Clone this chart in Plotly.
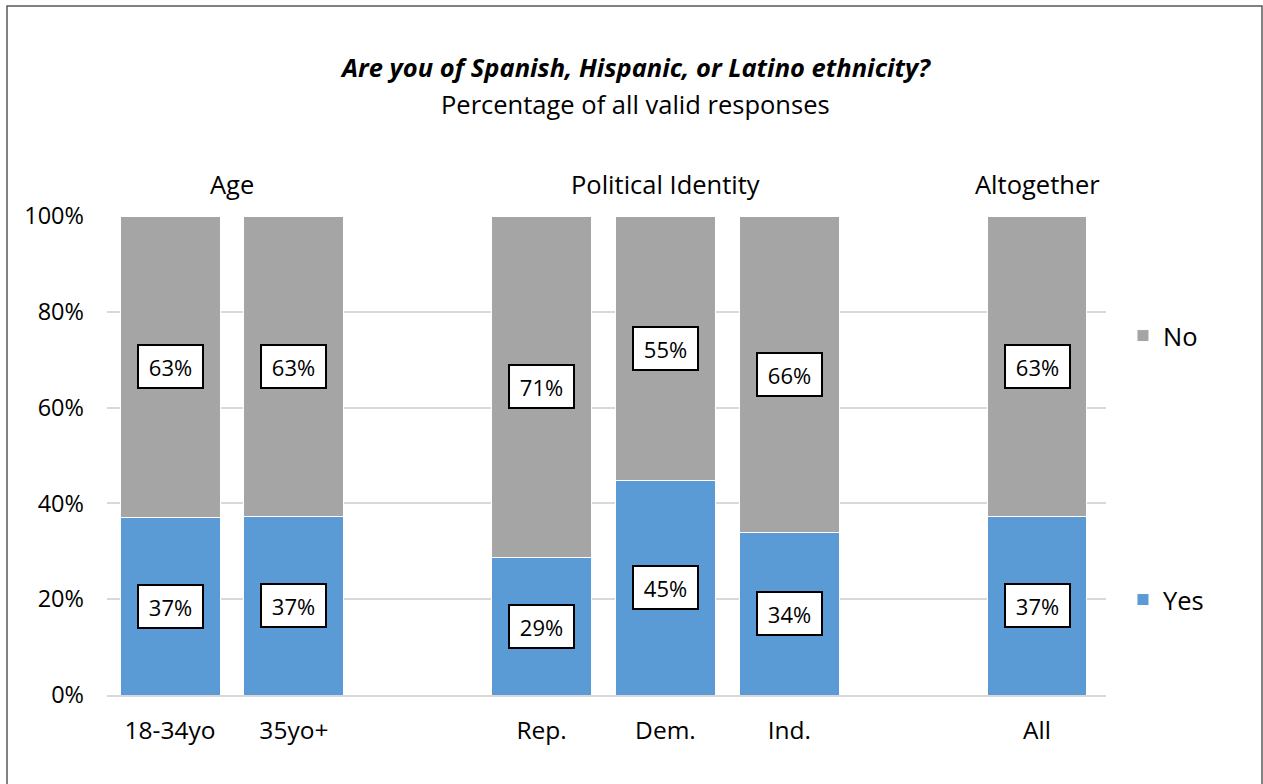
import plotly.graph_objects as go

categories = ["18-34yo", "35yo+", " ", "Rep.", "Dem.", "Ind.", "  ", "All"]
yes_vals = [37.0, 37.2, None, 28.8, 44.7, 34.0, None, 37.2]
no_vals = [63.0, 62.8, None, 71.2, 55.3, 66.0, None, 62.8]
yes_labels = ["37%", "37%", None, "29%", "45%", "34%", None, "37%"]
no_labels = ["63%", "63%", None, "71%", "55%", "66%", None, "63%"]
groups = [("Age", 0.5), ("Political Identity", 4), ("Altogether", 7)]
y_ticks = [0, 20, 40, 60, 80, 100]
y_tick_text = ["0%", "20%", "40%", "60%", "80%", "100%"]

FONT = "Open Sans"
GREY = "#A5A5A5"
BLUE = "#5B9BD5"

fig = go.Figure()
fig.add_trace(go.Bar(x=categories, y=yes_vals, name="Yes", marker=dict(color=BLUE, line=dict(color="white", width=1)),
                     legend="legend2", showlegend=True))
fig.add_trace(go.Bar(x=categories, y=no_vals, name="No", marker=dict(color=GREY, line=dict(color="white", width=1)),
                     legend="legend", showlegend=True))

annotations = []
for i, c in enumerate(categories):
    if yes_vals[i] is None:
        continue
    for yc, lab in ((yes_vals[i] / 2, yes_labels[i]), (yes_vals[i] + no_vals[i] / 2, no_labels[i])):
        annotations.append(dict(x=c, y=yc, xref="x", yref="y", text=lab, showarrow=False,
                                font=dict(family=FONT, size=22, color="black"),
                                bgcolor="white", bordercolor="black", borderwidth=2, borderpad=4,
                                width=55, height=33))

for g, xpos in groups:
    annotations.append(dict(x=xpos, y=(695 - 184) / 479, xref="x", yref="paper", text=g, showarrow=False,
                            font=dict(family=FONT, size=25.5, color="black"), yanchor="middle"))

annotations.append(dict(x=(635 - 107) / 999, y=(695 - 67) / 479, xref="paper", yref="paper",
                        text="<b><i>Are you of Spanish, Hispanic, or Latino ethnicity?</i></b>", showarrow=False,
                        font=dict(family=FONT, size=25.5, color="black"), yanchor="middle"))
annotations.append(dict(x=(635 - 107) / 999, y=(695 - 104) / 479, xref="paper", yref="paper",
                        text="Percentage of all valid responses", showarrow=False,
                        font=dict(family=FONT, size=25.5, color="black"), yanchor="middle"))

fig.update_layout(
    width=1263, height=784,
    margin=dict(l=107, r=157, t=216, b=89),
    paper_bgcolor="white", plot_bgcolor="white",
    barmode="stack", bargap=0.193,
    font=dict(family=FONT, size=21, color="black"),
    showlegend=True,
    annotations=annotations,
    legend=dict(x=1.017, y=(695 - 336) / 479, xanchor="left", yanchor="middle",
                font=dict(family=FONT, size=25.5), bgcolor="rgba(0,0,0,0)"),
    legend2=dict(x=1.017, y=(695 - 600) / 479, xanchor="left", yanchor="middle",
                 font=dict(family=FONT, size=25.5), bgcolor="rgba(0,0,0,0)"),
    shapes=[dict(type="rect", xref="paper", yref="paper",
                 x0=(7 - 107) / 999, x1=(1262 - 107) / 999,
                 y0=(695 - 790) / 479, y1=(695 - 6) / 479,
                 line=dict(color="#595959", width=1.5), fillcolor="rgba(0,0,0,0)", layer="below")],
)
fig.update_xaxes(type="category", range=[-0.509, 7.557], showgrid=False, showline=True,
                 linecolor="#D9D9D9", linewidth=2,
                 ticks="", tickfont=dict(family=FONT, size=24.5), ticklabelstandoff=13)
fig.update_yaxes(range=[0, 100], tickvals=y_ticks, ticktext=y_tick_text, showgrid=True,
                 gridcolor="#D9D9D9", gridwidth=2, zeroline=False, showline=False,
                 tickfont=dict(family=FONT, size=23.5), ticklabelstandoff=22)

fig.write_html("out.html", config={"displayModeBar": False})
with open("out.html", encoding="utf-8") as f:
    html = f.read()
html = html.replace("<head>", "<head><style>html,body{margin:0;padding:0;}</style>", 1)
with open("out.html", "w", encoding="utf-8") as f:
    f.write(html)
